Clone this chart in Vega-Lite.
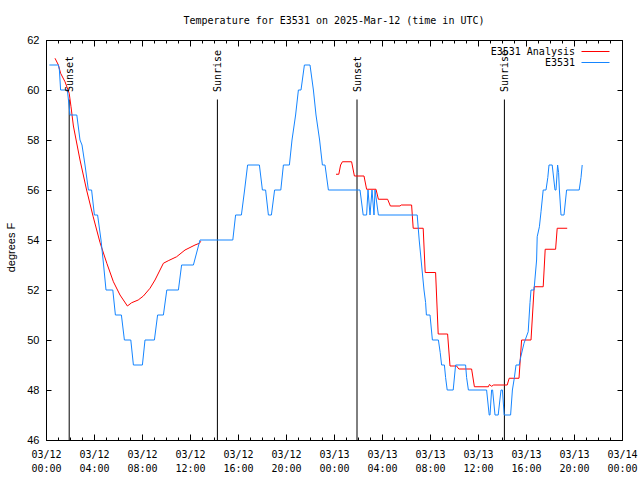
{
  "$schema": "https://vega.github.io/schema/vega-lite/v6.json",
  "width": 576,
  "height": 400,
  "autosize": {"type": "none"},
  "padding": {"left": 46, "top": 40, "right": 18, "bottom": 40},
  "background": "white",
  "config": {
    "view": {"stroke": "black", "strokeWidth": 1},
    "axis": {"grid": false, "domain": false, "tickColor": "black", "labelColor": "black", "titleColor": "black"}
  },
  "title": {
    "text": "Temperature for E3531 on 2025-Mar-12 (time in UTC)",
    "font": "DejaVu Sans Mono",
    "fontSize": 10,
    "fontWeight": "normal",
    "anchor": "middle",
    "frame": "group",
    "baseline": "middle",
    "offset": 3,
    "color": "black"
  },
  "datasets": {
    "temps": [
      {"series": "E3531 Analysis", "seg": "a1", "time": "2025-03-12T00:45:00Z", "temp": 61.27},
      {"series": "E3531 Analysis", "seg": "a1", "time": "2025-03-12T01:02:00Z", "temp": 61.0},
      {"series": "E3531 Analysis", "seg": "a1", "time": "2025-03-12T01:13:00Z", "temp": 60.67},
      {"series": "E3531 Analysis", "seg": "a1", "time": "2025-03-12T01:35:00Z", "temp": 60.33},
      {"series": "E3531 Analysis", "seg": "a1", "time": "2025-03-12T01:56:00Z", "temp": 59.87},
      {"series": "E3531 Analysis", "seg": "a1", "time": "2025-03-12T02:05:00Z", "temp": 59.33},
      {"series": "E3531 Analysis", "seg": "a1", "time": "2025-03-12T02:17:00Z", "temp": 58.56},
      {"series": "E3531 Analysis", "seg": "a1", "time": "2025-03-12T02:50:00Z", "temp": 57.2},
      {"series": "E3531 Analysis", "seg": "a1", "time": "2025-03-12T03:23:00Z", "temp": 56.0},
      {"series": "E3531 Analysis", "seg": "a1", "time": "2025-03-12T03:56:00Z", "temp": 54.93},
      {"series": "E3531 Analysis", "seg": "a1", "time": "2025-03-12T04:30:00Z", "temp": 53.9},
      {"series": "E3531 Analysis", "seg": "a1", "time": "2025-03-12T05:04:00Z", "temp": 53.07},
      {"series": "E3531 Analysis", "seg": "a1", "time": "2025-03-12T05:37:00Z", "temp": 52.33},
      {"series": "E3531 Analysis", "seg": "a1", "time": "2025-03-12T06:10:00Z", "temp": 51.8},
      {"series": "E3531 Analysis", "seg": "a1", "time": "2025-03-12T06:47:00Z", "temp": 51.36},
      {"series": "E3531 Analysis", "seg": "a1", "time": "2025-03-12T07:08:00Z", "temp": 51.49},
      {"series": "E3531 Analysis", "seg": "a1", "time": "2025-03-12T07:41:00Z", "temp": 51.6},
      {"series": "E3531 Analysis", "seg": "a1", "time": "2025-03-12T08:07:00Z", "temp": 51.76},
      {"series": "E3531 Analysis", "seg": "a1", "time": "2025-03-12T08:40:00Z", "temp": 52.07},
      {"series": "E3531 Analysis", "seg": "a1", "time": "2025-03-12T09:05:00Z", "temp": 52.4},
      {"series": "E3531 Analysis", "seg": "a1", "time": "2025-03-12T09:30:00Z", "temp": 52.8},
      {"series": "E3531 Analysis", "seg": "a1", "time": "2025-03-12T09:47:00Z", "temp": 53.07},
      {"series": "E3531 Analysis", "seg": "a1", "time": "2025-03-12T10:11:00Z", "temp": 53.17},
      {"series": "E3531 Analysis", "seg": "a1", "time": "2025-03-12T10:53:00Z", "temp": 53.33},
      {"series": "E3531 Analysis", "seg": "a1", "time": "2025-03-12T11:35:00Z", "temp": 53.6},
      {"series": "E3531 Analysis", "seg": "a1", "time": "2025-03-12T12:25:00Z", "temp": 53.8},
      {"series": "E3531 Analysis", "seg": "a1", "time": "2025-03-12T12:47:00Z", "temp": 53.87},
      {"series": "E3531 Analysis", "seg": "a1", "time": "2025-03-12T12:54:00Z", "temp": 53.95},
      {"series": "E3531 Analysis", "seg": "a2", "time": "2025-03-13T00:10:00Z", "temp": 56.63},
      {"series": "E3531 Analysis", "seg": "a2", "time": "2025-03-13T00:24:00Z", "temp": 56.63},
      {"series": "E3531 Analysis", "seg": "a2", "time": "2025-03-13T00:33:00Z", "temp": 57.0},
      {"series": "E3531 Analysis", "seg": "a2", "time": "2025-03-13T00:42:00Z", "temp": 57.13},
      {"series": "E3531 Analysis", "seg": "a2", "time": "2025-03-13T01:28:00Z", "temp": 57.13},
      {"series": "E3531 Analysis", "seg": "a2", "time": "2025-03-13T01:42:00Z", "temp": 56.56},
      {"series": "E3531 Analysis", "seg": "a2", "time": "2025-03-13T02:30:00Z", "temp": 56.56},
      {"series": "E3531 Analysis", "seg": "a2", "time": "2025-03-13T02:43:00Z", "temp": 56.03},
      {"series": "E3531 Analysis", "seg": "a2", "time": "2025-03-13T03:30:00Z", "temp": 56.03},
      {"series": "E3531 Analysis", "seg": "a2", "time": "2025-03-13T03:42:00Z", "temp": 55.63},
      {"series": "E3531 Analysis", "seg": "a2", "time": "2025-03-13T04:28:00Z", "temp": 55.63},
      {"series": "E3531 Analysis", "seg": "a2", "time": "2025-03-13T04:42:00Z", "temp": 55.36},
      {"series": "E3531 Analysis", "seg": "a2", "time": "2025-03-13T05:30:00Z", "temp": 55.36},
      {"series": "E3531 Analysis", "seg": "a2", "time": "2025-03-13T05:36:00Z", "temp": 55.4},
      {"series": "E3531 Analysis", "seg": "a2", "time": "2025-03-13T06:28:00Z", "temp": 55.4},
      {"series": "E3531 Analysis", "seg": "a2", "time": "2025-03-13T06:36:00Z", "temp": 54.47},
      {"series": "E3531 Analysis", "seg": "a2", "time": "2025-03-13T07:26:00Z", "temp": 54.47},
      {"series": "E3531 Analysis", "seg": "a2", "time": "2025-03-13T07:36:00Z", "temp": 52.7},
      {"series": "E3531 Analysis", "seg": "a2", "time": "2025-03-13T08:28:00Z", "temp": 52.7},
      {"series": "E3531 Analysis", "seg": "a2", "time": "2025-03-13T08:41:00Z", "temp": 50.24},
      {"series": "E3531 Analysis", "seg": "a2", "time": "2025-03-13T09:28:00Z", "temp": 50.24},
      {"series": "E3531 Analysis", "seg": "a2", "time": "2025-03-13T09:40:00Z", "temp": 48.96},
      {"series": "E3531 Analysis", "seg": "a2", "time": "2025-03-13T10:13:00Z", "temp": 48.96},
      {"series": "E3531 Analysis", "seg": "a2", "time": "2025-03-13T10:24:00Z", "temp": 48.84},
      {"series": "E3531 Analysis", "seg": "a2", "time": "2025-03-13T11:28:00Z", "temp": 48.84},
      {"series": "E3531 Analysis", "seg": "a2", "time": "2025-03-13T11:42:00Z", "temp": 48.13},
      {"series": "E3531 Analysis", "seg": "a2", "time": "2025-03-13T12:52:00Z", "temp": 48.13},
      {"series": "E3531 Analysis", "seg": "a2", "time": "2025-03-13T12:57:00Z", "temp": 48.22},
      {"series": "E3531 Analysis", "seg": "a2", "time": "2025-03-13T13:08:00Z", "temp": 48.15},
      {"series": "E3531 Analysis", "seg": "a2", "time": "2025-03-13T13:18:00Z", "temp": 48.2},
      {"series": "E3531 Analysis", "seg": "a2", "time": "2025-03-13T14:26:00Z", "temp": 48.2},
      {"series": "E3531 Analysis", "seg": "a2", "time": "2025-03-13T14:36:00Z", "temp": 48.47},
      {"series": "E3531 Analysis", "seg": "a2", "time": "2025-03-13T15:25:00Z", "temp": 48.47},
      {"series": "E3531 Analysis", "seg": "a2", "time": "2025-03-13T15:38:00Z", "temp": 50.0},
      {"series": "E3531 Analysis", "seg": "a2", "time": "2025-03-13T16:25:00Z", "temp": 50.0},
      {"series": "E3531 Analysis", "seg": "a2", "time": "2025-03-13T16:41:00Z", "temp": 52.13},
      {"series": "E3531 Analysis", "seg": "a2", "time": "2025-03-13T17:26:00Z", "temp": 52.13},
      {"series": "E3531 Analysis", "seg": "a2", "time": "2025-03-13T17:36:00Z", "temp": 53.63},
      {"series": "E3531 Analysis", "seg": "a2", "time": "2025-03-13T18:28:00Z", "temp": 53.63},
      {"series": "E3531 Analysis", "seg": "a2", "time": "2025-03-13T18:36:00Z", "temp": 54.47},
      {"series": "E3531 Analysis", "seg": "a2", "time": "2025-03-13T19:26:00Z", "temp": 54.47},
      {"series": "E3531", "seg": "b", "time": "2025-03-12T00:17:00Z", "temp": 61},
      {"series": "E3531", "seg": "b", "time": "2025-03-12T01:02:00Z", "temp": 61},
      {"series": "E3531", "seg": "b", "time": "2025-03-12T01:07:00Z", "temp": 60.8},
      {"series": "E3531", "seg": "b", "time": "2025-03-12T01:13:00Z", "temp": 60},
      {"series": "E3531", "seg": "b", "time": "2025-03-12T01:47:00Z", "temp": 60},
      {"series": "E3531", "seg": "b", "time": "2025-03-12T02:00:00Z", "temp": 59},
      {"series": "E3531", "seg": "b", "time": "2025-03-12T02:34:00Z", "temp": 59},
      {"series": "E3531", "seg": "b", "time": "2025-03-12T02:50:00Z", "temp": 58},
      {"series": "E3531", "seg": "b", "time": "2025-03-12T03:00:00Z", "temp": 57.8},
      {"series": "E3531", "seg": "b", "time": "2025-03-12T03:15:00Z", "temp": 57},
      {"series": "E3531", "seg": "b", "time": "2025-03-12T03:32:00Z", "temp": 56},
      {"series": "E3531", "seg": "b", "time": "2025-03-12T03:48:00Z", "temp": 56},
      {"series": "E3531", "seg": "b", "time": "2025-03-12T04:02:00Z", "temp": 55},
      {"series": "E3531", "seg": "b", "time": "2025-03-12T04:18:00Z", "temp": 55},
      {"series": "E3531", "seg": "b", "time": "2025-03-12T04:35:00Z", "temp": 54},
      {"series": "E3531", "seg": "b", "time": "2025-03-12T04:48:00Z", "temp": 53},
      {"series": "E3531", "seg": "b", "time": "2025-03-12T05:00:00Z", "temp": 52},
      {"series": "E3531", "seg": "b", "time": "2025-03-12T05:34:00Z", "temp": 52},
      {"series": "E3531", "seg": "b", "time": "2025-03-12T05:47:00Z", "temp": 51},
      {"series": "E3531", "seg": "b", "time": "2025-03-12T06:17:00Z", "temp": 51},
      {"series": "E3531", "seg": "b", "time": "2025-03-12T06:32:00Z", "temp": 50},
      {"series": "E3531", "seg": "b", "time": "2025-03-12T07:04:00Z", "temp": 50},
      {"series": "E3531", "seg": "b", "time": "2025-03-12T07:17:00Z", "temp": 49},
      {"series": "E3531", "seg": "b", "time": "2025-03-12T08:02:00Z", "temp": 49},
      {"series": "E3531", "seg": "b", "time": "2025-03-12T08:15:00Z", "temp": 50},
      {"series": "E3531", "seg": "b", "time": "2025-03-12T09:02:00Z", "temp": 50},
      {"series": "E3531", "seg": "b", "time": "2025-03-12T09:18:00Z", "temp": 51},
      {"series": "E3531", "seg": "b", "time": "2025-03-12T09:47:00Z", "temp": 51},
      {"series": "E3531", "seg": "b", "time": "2025-03-12T10:04:00Z", "temp": 52},
      {"series": "E3531", "seg": "b", "time": "2025-03-12T11:02:00Z", "temp": 52},
      {"series": "E3531", "seg": "b", "time": "2025-03-12T11:18:00Z", "temp": 53},
      {"series": "E3531", "seg": "b", "time": "2025-03-12T12:17:00Z", "temp": 53},
      {"series": "E3531", "seg": "b", "time": "2025-03-12T12:50:00Z", "temp": 54},
      {"series": "E3531", "seg": "b", "time": "2025-03-12T15:34:00Z", "temp": 54},
      {"series": "E3531", "seg": "b", "time": "2025-03-12T15:48:00Z", "temp": 55},
      {"series": "E3531", "seg": "b", "time": "2025-03-12T16:17:00Z", "temp": 55},
      {"series": "E3531", "seg": "b", "time": "2025-03-12T16:33:00Z", "temp": 56},
      {"series": "E3531", "seg": "b", "time": "2025-03-12T16:48:00Z", "temp": 57},
      {"series": "E3531", "seg": "b", "time": "2025-03-12T17:47:00Z", "temp": 57},
      {"series": "E3531", "seg": "b", "time": "2025-03-12T18:02:00Z", "temp": 56},
      {"series": "E3531", "seg": "b", "time": "2025-03-12T18:18:00Z", "temp": 56},
      {"series": "E3531", "seg": "b", "time": "2025-03-12T18:32:00Z", "temp": 55},
      {"series": "E3531", "seg": "b", "time": "2025-03-12T18:47:00Z", "temp": 55},
      {"series": "E3531", "seg": "b", "time": "2025-03-12T19:03:00Z", "temp": 56},
      {"series": "E3531", "seg": "b", "time": "2025-03-12T19:34:00Z", "temp": 56},
      {"series": "E3531", "seg": "b", "time": "2025-03-12T19:47:00Z", "temp": 57},
      {"series": "E3531", "seg": "b", "time": "2025-03-12T20:17:00Z", "temp": 57},
      {"series": "E3531", "seg": "b", "time": "2025-03-12T20:30:00Z", "temp": 58},
      {"series": "E3531", "seg": "b", "time": "2025-03-12T20:48:00Z", "temp": 59},
      {"series": "E3531", "seg": "b", "time": "2025-03-12T21:02:00Z", "temp": 60},
      {"series": "E3531", "seg": "b", "time": "2025-03-12T21:15:00Z", "temp": 60},
      {"series": "E3531", "seg": "b", "time": "2025-03-12T21:32:00Z", "temp": 61},
      {"series": "E3531", "seg": "b", "time": "2025-03-12T22:00:00Z", "temp": 61},
      {"series": "E3531", "seg": "b", "time": "2025-03-12T22:17:00Z", "temp": 60},
      {"series": "E3531", "seg": "b", "time": "2025-03-12T22:30:00Z", "temp": 59},
      {"series": "E3531", "seg": "b", "time": "2025-03-12T22:48:00Z", "temp": 58},
      {"series": "E3531", "seg": "b", "time": "2025-03-12T23:02:00Z", "temp": 57},
      {"series": "E3531", "seg": "b", "time": "2025-03-12T23:15:00Z", "temp": 57},
      {"series": "E3531", "seg": "b", "time": "2025-03-12T23:32:00Z", "temp": 56},
      {"series": "E3531", "seg": "b", "time": "2025-03-13T02:10:00Z", "temp": 56},
      {"series": "E3531", "seg": "b", "time": "2025-03-13T02:26:00Z", "temp": 55},
      {"series": "E3531", "seg": "b", "time": "2025-03-13T02:43:00Z", "temp": 55},
      {"series": "E3531", "seg": "b", "time": "2025-03-13T02:50:00Z", "temp": 56},
      {"series": "E3531", "seg": "b", "time": "2025-03-13T03:00:00Z", "temp": 55},
      {"series": "E3531", "seg": "b", "time": "2025-03-13T03:10:00Z", "temp": 56},
      {"series": "E3531", "seg": "b", "time": "2025-03-13T03:20:00Z", "temp": 55},
      {"series": "E3531", "seg": "b", "time": "2025-03-13T03:25:00Z", "temp": 56},
      {"series": "E3531", "seg": "b", "time": "2025-03-13T03:42:00Z", "temp": 55},
      {"series": "E3531", "seg": "b", "time": "2025-03-13T06:56:00Z", "temp": 55},
      {"series": "E3531", "seg": "b", "time": "2025-03-13T07:06:00Z", "temp": 54},
      {"series": "E3531", "seg": "b", "time": "2025-03-13T07:18:00Z", "temp": 53},
      {"series": "E3531", "seg": "b", "time": "2025-03-13T07:30:00Z", "temp": 52},
      {"series": "E3531", "seg": "b", "time": "2025-03-13T07:38:00Z", "temp": 51.5},
      {"series": "E3531", "seg": "b", "time": "2025-03-13T07:42:00Z", "temp": 51},
      {"series": "E3531", "seg": "b", "time": "2025-03-13T08:00:00Z", "temp": 51},
      {"series": "E3531", "seg": "b", "time": "2025-03-13T08:12:00Z", "temp": 50},
      {"series": "E3531", "seg": "b", "time": "2025-03-13T08:42:00Z", "temp": 50},
      {"series": "E3531", "seg": "b", "time": "2025-03-13T08:51:00Z", "temp": 49.5},
      {"series": "E3531", "seg": "b", "time": "2025-03-13T08:58:00Z", "temp": 49},
      {"series": "E3531", "seg": "b", "time": "2025-03-13T09:12:00Z", "temp": 49},
      {"series": "E3531", "seg": "b", "time": "2025-03-13T09:18:00Z", "temp": 48.5},
      {"series": "E3531", "seg": "b", "time": "2025-03-13T09:26:00Z", "temp": 48},
      {"series": "E3531", "seg": "b", "time": "2025-03-13T09:56:00Z", "temp": 48},
      {"series": "E3531", "seg": "b", "time": "2025-03-13T10:08:00Z", "temp": 49},
      {"series": "E3531", "seg": "b", "time": "2025-03-13T10:58:00Z", "temp": 49},
      {"series": "E3531", "seg": "b", "time": "2025-03-13T11:03:00Z", "temp": 48.5},
      {"series": "E3531", "seg": "b", "time": "2025-03-13T11:12:00Z", "temp": 48},
      {"series": "E3531", "seg": "b", "time": "2025-03-13T12:43:00Z", "temp": 48},
      {"series": "E3531", "seg": "b", "time": "2025-03-13T12:56:00Z", "temp": 47},
      {"series": "E3531", "seg": "b", "time": "2025-03-13T13:00:00Z", "temp": 47},
      {"series": "E3531", "seg": "b", "time": "2025-03-13T13:08:00Z", "temp": 48},
      {"series": "E3531", "seg": "b", "time": "2025-03-13T13:13:00Z", "temp": 48},
      {"series": "E3531", "seg": "b", "time": "2025-03-13T13:25:00Z", "temp": 47},
      {"series": "E3531", "seg": "b", "time": "2025-03-13T13:41:00Z", "temp": 47},
      {"series": "E3531", "seg": "b", "time": "2025-03-13T13:55:00Z", "temp": 48},
      {"series": "E3531", "seg": "b", "time": "2025-03-13T14:02:00Z", "temp": 48},
      {"series": "E3531", "seg": "b", "time": "2025-03-13T14:11:00Z", "temp": 47},
      {"series": "E3531", "seg": "b", "time": "2025-03-13T14:43:00Z", "temp": 47},
      {"series": "E3531", "seg": "b", "time": "2025-03-13T14:52:00Z", "temp": 48},
      {"series": "E3531", "seg": "b", "time": "2025-03-13T15:02:00Z", "temp": 48.5},
      {"series": "E3531", "seg": "b", "time": "2025-03-13T15:10:00Z", "temp": 49},
      {"series": "E3531", "seg": "b", "time": "2025-03-13T15:26:00Z", "temp": 49},
      {"series": "E3531", "seg": "b", "time": "2025-03-13T15:34:00Z", "temp": 49.33},
      {"series": "E3531", "seg": "b", "time": "2025-03-13T15:50:00Z", "temp": 49.87},
      {"series": "E3531", "seg": "b", "time": "2025-03-13T16:11:00Z", "temp": 50.33},
      {"series": "E3531", "seg": "b", "time": "2025-03-13T16:20:00Z", "temp": 51.5},
      {"series": "E3531", "seg": "b", "time": "2025-03-13T16:25:00Z", "temp": 52},
      {"series": "E3531", "seg": "b", "time": "2025-03-13T16:40:00Z", "temp": 52},
      {"series": "E3531", "seg": "b", "time": "2025-03-13T16:53:00Z", "temp": 53.2},
      {"series": "E3531", "seg": "b", "time": "2025-03-13T16:56:00Z", "temp": 54.13},
      {"series": "E3531", "seg": "b", "time": "2025-03-13T17:07:00Z", "temp": 54.53},
      {"series": "E3531", "seg": "b", "time": "2025-03-13T17:15:00Z", "temp": 55.13},
      {"series": "E3531", "seg": "b", "time": "2025-03-13T17:26:00Z", "temp": 56},
      {"series": "E3531", "seg": "b", "time": "2025-03-13T17:40:00Z", "temp": 56},
      {"series": "E3531", "seg": "b", "time": "2025-03-13T17:49:00Z", "temp": 56.5},
      {"series": "E3531", "seg": "b", "time": "2025-03-13T17:55:00Z", "temp": 57},
      {"series": "E3531", "seg": "b", "time": "2025-03-13T18:11:00Z", "temp": 57},
      {"series": "E3531", "seg": "b", "time": "2025-03-13T18:25:00Z", "temp": 56},
      {"series": "E3531", "seg": "b", "time": "2025-03-13T18:30:00Z", "temp": 56},
      {"series": "E3531", "seg": "b", "time": "2025-03-13T18:38:00Z", "temp": 57},
      {"series": "E3531", "seg": "b", "time": "2025-03-13T18:43:00Z", "temp": 56.7},
      {"series": "E3531", "seg": "b", "time": "2025-03-13T18:47:00Z", "temp": 56},
      {"series": "E3531", "seg": "b", "time": "2025-03-13T18:55:00Z", "temp": 55},
      {"series": "E3531", "seg": "b", "time": "2025-03-13T19:10:00Z", "temp": 55},
      {"series": "E3531", "seg": "b", "time": "2025-03-13T19:23:00Z", "temp": 56},
      {"series": "E3531", "seg": "b", "time": "2025-03-13T20:26:00Z", "temp": 56},
      {"series": "E3531", "seg": "b", "time": "2025-03-13T20:35:00Z", "temp": 56.5},
      {"series": "E3531", "seg": "b", "time": "2025-03-13T20:41:00Z", "temp": 57}
    ],
    "sun": [
      {"event": "Sunset", "time": "2025-03-12T01:56:00Z"},
      {"event": "Sunrise", "time": "2025-03-12T14:17:00Z"},
      {"event": "Sunset", "time": "2025-03-13T01:55:00Z"},
      {"event": "Sunrise", "time": "2025-03-13T14:12:00Z"}
    ]
  },
  "layer": [
    {
      "data": {"name": "sun"},
      "mark": {"type": "rule", "color": "black", "strokeWidth": 1},
      "encoding": {
        "x": {
          "field": "time", "type": "temporal",
          "scale": {"type": "utc", "domain": [1741737600000, 1741910400000], "nice": false},
          "axis": {
            "orient": "bottom", "title": null,
            "values": [1741737600000, 1741752000000, 1741766400000, 1741780800000, 1741795200000, 1741809600000, 1741824000000, 1741838400000, 1741852800000, 1741867200000, 1741881600000, 1741896000000, 1741910400000],
            "tickSize": -6,
            "labelExpr": "[utcFormat(datum.value, '%m/%d'), utcFormat(datum.value, '%H:%M')]",
            "labelOverlap": false,
            "labelFlush": false,
            "labelBaseline": "top",
            "labelPadding": 15,
            "labelLineHeight": 14,
            "labelFont": "DejaVu Sans Mono",
            "labelFontSize": 10
          }
        },
        "y": {
          "datum": 59.62, "type": "quantitative",
          "scale": {"domain": [46, 62], "nice": false, "zero": false},
          "axis": {
            "orient": "left", "title": "degrees F",
            "values": [46, 48, 50, 52, 54, 56, 58, 60, 62],
            "tickSize": -5, "labelPadding": 12,
            "labelFont": "Liberation Sans", "labelFontSize": 11,
            "titleFont": "Liberation Sans", "titleFontSize": 11, "titleFontWeight": "normal",
            "titleX": -35, "titleY": 207, "titleBaseline": "middle"
          }
        },
        "y2": {"datum": 46}
      }
    },
    {
      "data": {"name": "temps"},
      "mark": {"type": "line", "strokeWidth": 1},
      "encoding": {
        "x": {
          "field": "time", "type": "temporal",
          "axis": {"orient": "top", "title": null, "labels": false, "tickCount": 48, "tickSize": -3}
        },
        "y": {
          "field": "temp", "type": "quantitative",
          "axis": {"orient": "right", "title": null, "labels": false, "values": [46, 48, 50, 52, 54, 56, 58, 60, 62], "tickSize": -5}
        },
        "color": {
          "field": "series", "type": "nominal",
          "scale": {"domain": ["E3531 Analysis", "E3531"], "range": ["#ff0000", "#1585ff"]},
          "legend": {
            "orient": "none", "legendX": 544, "legendY": 6, "title": null,
            "symbolType": "M-3,0H3", "symbolSize": 87, "symbolStrokeWidth": 1,
            "labelAlign": "right", "labelOffset": -26,
            "labelFont": "DejaVu Sans Mono", "labelFontSize": 10, "labelColor": "black",
            "padding": 0, "rowPadding": 0, "symbolOffset": 0
          }
        },
        "detail": {"field": "seg", "type": "nominal"}
      }
    },
    {
      "data": {"name": "sun"},
      "mark": {"type": "text", "angle": 270, "align": "left", "baseline": "middle", "font": "DejaVu Sans Mono", "fontSize": 10, "dy": 1, "color": "black"},
      "encoding": {
        "x": {
          "field": "time", "type": "temporal",
          "axis": {"orient": "bottom", "title": null, "labels": false, "tickCount": 48, "tickSize": -3}
        },
        "y": {"datum": 59.92, "type": "quantitative", "axis": null},
        "text": {"field": "event"}
      }
    },
    {
      "data": {"name": "sun"},
      "mark": {"type": "rule", "color": "black", "strokeWidth": 1, "opacity": 0},
      "encoding": {
        "x": {
          "field": "time", "type": "temporal",
          "axis": {
            "orient": "top", "title": null, "labels": false,
            "values": [1741737600000, 1741752000000, 1741766400000, 1741780800000, 1741795200000, 1741809600000, 1741824000000, 1741838400000, 1741852800000, 1741867200000, 1741881600000, 1741896000000, 1741910400000],
            "tickSize": -6
          }
        },
        "y": {"datum": 59.62, "type": "quantitative", "axis": null},
        "y2": {"datum": 46}
      }
    }
  ],
  "resolve": {"axis": {"x": "independent", "y": "independent"}}
}
